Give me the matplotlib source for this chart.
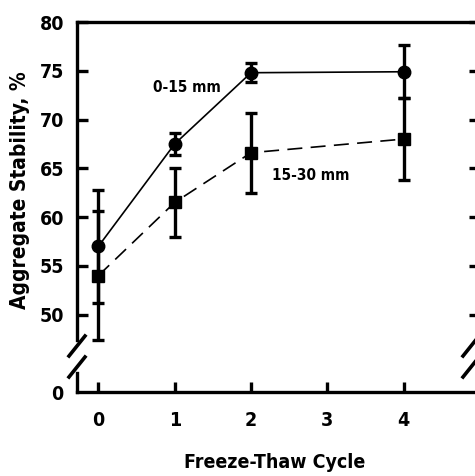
import matplotlib
matplotlib.use("Agg")
import matplotlib.pyplot as plt
from matplotlib import font_manager

# prefer a narrow bold face like the scanned figure
names = {f.name for f in font_manager.fontManager.ttflist}
narrow = [f for f in font_manager.fontManager.ttflist
          if f.stretch in ('condensed', 'semi-condensed', 'extra-condensed', 'ultra-condensed')]
family = 'Liberation Sans'
stretch = 'normal'
for cand in ('Liberation Sans Narrow', 'DejaVu Sans Condensed'):
    if cand in names:
        family = cand
        break
else:
    if any(f.name == 'DejaVu Sans' for f in narrow):
        family, stretch = 'DejaVu Sans', 'condensed'
plt.rcParams['font.family'] = [family, 'DejaVu Sans']
plt.rcParams['font.stretch'] = stretch
plt.rcParams['font.weight'] = 'bold'

cycles = [0, 1, 2, 4]
shallow = [57.0, 67.5, 74.8, 74.9]
shallow_err = [5.8, 1.1, 1.0, 2.7]
deep = [54.0, 61.5, 66.6, 68.0]
deep_err = [6.6, 3.5, 4.1, 4.2]
yticks = [50, 55, 60, 65, 70, 75, 80]
xticks = [0, 1, 2, 3, 4, 5]

W, H = 475, 476
fig = plt.figure(figsize=(W / 100, H / 100), dpi=100)

left, right = 77 / W, 480 / W
top_px, mid_px = 22, 340
low_top_px, bot_px = 373, 392

ax = fig.add_axes([left, 1 - mid_px / H, right - left, (mid_px - top_px) / H])
ax2 = fig.add_axes([left, 1 - bot_px / H, right - left, (bot_px - low_top_px) / H])

xlim = (-0.28, 5.0)
for a in (ax, ax2):
    a.set_xlim(*xlim)
    a.patch.set_alpha(0)
    for s in a.spines.values():
        s.set_linewidth(2.4)

ax.set_ylim(47.4, 80)
ax.spines['bottom'].set_visible(False)
ax.set_yticks(yticks)
ax.tick_params(axis='y', which='both', direction='in', length=8, width=2.4,
               labelsize=14, right=True, pad=9)
ax.set_xticks([])

ax2.set_ylim(0, 2)
ax2.spines['top'].set_visible(False)
ax2.set_yticks([0])
ax2.tick_params(axis='y', direction='in', length=0, labelsize=14, pad=10)
ax2.set_xticks(xticks)
ax2.set_xticklabels([str(x) for x in xticks])
ax2.tick_params(axis='x', direction='in', length=7, width=2.4, labelsize=14, pad=14)

ax.errorbar(cycles, shallow, yerr=shallow_err, fmt='o-', color='black', ms=9,
            lw=1.2, elinewidth=2.4, capsize=4, capthick=2.4, clip_on=False)
ax.errorbar(cycles, deep, yerr=deep_err, fmt='s--', color='black', ms=8,
            lw=1.2, dashes=(9, 5), elinewidth=2.4, capsize=4, capthick=2.4,
            clip_on=False)

ax.text(1.16, 73.3, '0-15 mm', fontsize=11, ha='center', va='center')
ax.text(2.78, 64.3, '15-30 mm', fontsize=11, ha='center', va='center')

# axis break marks
for xp in (left, right - 9 / W):
    for yp in (346 / H, 367 / H):
        fig.add_artist(plt.Line2D([xp - 8 / W, xp + 8 / W],
                                  [1 - yp - 10 / H, 1 - yp + 10 / H],
                                  color='black', lw=2.6))

fig.text(20 / W, 1 - 190 / H, 'Aggregate Stability, %', rotation=90,
         ha='center', va='center', fontsize=15)
fig.text(275 / W, 1 - 463 / H, 'Freeze-Thaw Cycle', ha='center', va='center',
         fontsize=14)

fig.savefig('out.png', dpi=100)
